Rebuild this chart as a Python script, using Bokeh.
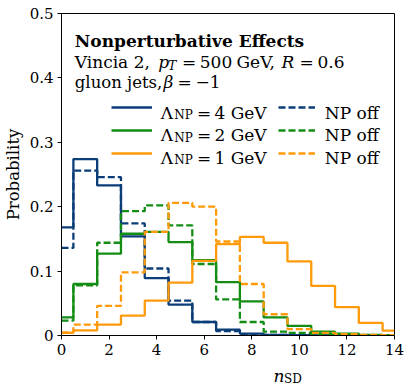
import math
from bokeh.plotting import figure
from bokeh.layouts import column
from bokeh.models import Label, Legend, LegendItem, FixedTicker, Range1d
from bokeh.embed import file_html
from bokeh.resources import INLINE

# ---- data: probability per n_SD value (bins centred on integers) ----
n_sd = list(range(15))
lam4_np = [0.168, 0.274, 0.233, 0.154, 0.089, 0.048, 0.021, 0.009, 0.003, 0.001, 0.0005, 0.0, 0.0, 0.0, 0.0]
lam4_off = [0.136, 0.256, 0.246, 0.174, 0.104, 0.054, 0.021, 0.007, 0.002, 0.001, 0.0, 0.0, 0.0, 0.0, 0.0]
lam2_np = [0.028, 0.080, 0.127, 0.158, 0.161, 0.145, 0.117, 0.083, 0.053, 0.028, 0.015, 0.006, 0.003, 0.001, 0.0005]
lam2_off = [0.023, 0.078, 0.144, 0.193, 0.202, 0.171, 0.111, 0.056, 0.021, 0.006, 0.004, 0.002, 0.001, 0.0, 0.0]
lam1_np = [0.004, 0.008, 0.017, 0.031, 0.054, 0.082, 0.116, 0.142, 0.153, 0.144, 0.115, 0.077, 0.044, 0.0195, 0.0077]
lam1_off = [0.005, 0.017, 0.046, 0.098, 0.161, 0.206, 0.200, 0.146, 0.080, 0.033, 0.010, 0.004, 0.002, 0.001, 0.0005]
x_ticks = [0, 2, 4, 6, 8, 10, 12, 14]
y_ticks = [0.0, 0.1, 0.2, 0.3, 0.4, 0.5]

BLUE = "#0b3d78"
GREEN = "#138d13"
ORANGE = "#ff9a0a"
FONT = "DejaVu Serif"
LW = 2.3
DASH = "7 3"

p = figure(width=408, height=362, output_backend="svg", toolbar_location=None, title=None,
           x_range=Range1d(0, 14), y_range=Range1d(0, 0.5),
           min_border_left=60, min_border_right=14, min_border_top=13, min_border_bottom=27)
p.background_fill_color = "white"
p.border_fill_color = "white"
p.outline_line_color = "black"
p.outline_line_width = 1
p.xgrid.visible = False
p.ygrid.visible = False

for ax in (p.xaxis, p.yaxis):
    ax.axis_line_color = "black"
    ax.major_tick_in = 0
    ax.major_tick_out = 4
    ax.minor_tick_in = 0
    ax.minor_tick_out = 0
    ax.major_tick_line_color = "black"
    ax.major_label_text_font = FONT
    ax.major_label_text_font_size = "15px"
    ax.major_label_text_color = "black"
    ax.major_label_standoff = 4
p.xaxis.ticker = FixedTicker(ticks=x_ticks)
p.yaxis.ticker = FixedTicker(ticks=y_ticks)
p.yaxis.axis_label = "Probability"
p.yaxis.axis_label_text_font = FONT
p.yaxis.axis_label_text_font_size = "16.5px"
p.yaxis.axis_label_text_font_style = "normal"
p.yaxis.axis_label_text_color = "black"
p.yaxis.axis_label_standoff = 4

r4 = p.step(n_sd, lam4_np, mode="center", line_color=BLUE, line_width=LW)
r4o = p.step(n_sd, lam4_off, mode="center", line_color=BLUE, line_width=LW, line_dash=DASH)
r2 = p.step(n_sd, lam2_np, mode="center", line_color=GREEN, line_width=LW)
r2o = p.step(n_sd, lam2_off, mode="center", line_color=GREEN, line_width=LW, line_dash=DASH)
r1 = p.step(n_sd, lam1_np, mode="center", line_color=ORANGE, line_width=LW)
r1o = p.step(n_sd, lam1_off, mode="center", line_color=ORANGE, line_width=LW, line_dash=DASH)

FX, FY = 60, 335  # frame bottom-left in picture pixels


def leg(renderers, vx, gw):
    lg = Legend(items=[LegendItem(label=" ", renderers=[r]) for r in renderers],
                location=(vx, 172), glyph_width=gw, glyph_height=20, label_height=20,
                label_width=0, label_standoff=0, padding=0, margin=0, spacing=3,
                border_line_alpha=0, background_fill_alpha=0, label_text_font_size="1px")
    p.add_layout(lg)


leg([r4, r2, r1], 50, 41)
leg([r4o, r2o, r1o], 217, 37)


def txt(fig, s, x, y, size=17, style="normal"):
    fig.add_layout(Label(x=x, y=y, x_units="screen", y_units="screen", text=s,
                         text_font=FONT, text_font_size=f"{size}px", text_font_style=style,
                         text_align="left", text_baseline="alphabetic", text_color="black"))


def ptxt(s, ix, iy, size=17, style="normal"):
    txt(p, s, ix - FX, FY - iy, size, style)


# title block
ptxt("Nonperturbative Effects", 73.3, 40.5, size=17, style="bold")
ptxt("Vincia 2,", 73.3, 61.3)
ptxt("p", 156.7, 61.3, style="italic")
ptxt("T", 166.5, 64.8, size=12.5, style="italic")
ptxt("=", 180.5, 61.3)
ptxt("500", 198.3, 61.3)
ptxt("GeV,", 235, 61.3)
ptxt("R", 280, 61.3, style="italic")
ptxt("=", 298, 61.3)
ptxt("0.6", 316, 61.3)
ptxt("gluon jets,", 73.3, 81.5, size=16.5)
ptxt("β", 162, 81.5, style="italic")
ptxt("=", 176, 81.5)
ptxt("−1", 194, 81.5)

# legend texts
for base, lam in ((112, "4 GeV"), (134.5, "2 GeV"), (157.3, "1 GeV")):
    ptxt("Λ", 159.3, base)
    ptxt("NP", 172.7, base + 2.5, size=12)
    ptxt("=", 195.5, base)
    ptxt(lam, 213, base)
    ptxt("NP off", 323.3, base)

# x-axis label strip below the main figure (picture y 362..388)
p2 = figure(width=408, height=26, output_backend="svg", toolbar_location=None, title=None,
            x_range=Range1d(0, 1), y_range=Range1d(0, 1), x_axis_location=None,
            y_axis_location=None, min_border=0)
p2.outline_line_color = None
p2.xgrid.visible = False
p2.ygrid.visible = False
p2.background_fill_color = "white"
p2.border_fill_color = "white"
txt(p2, "n", 212, 388 - 375, size=17, style="italic")
txt(p2, "SD", 222.5, 388 - 378.5, size=12)

layout = column(p, p2, spacing=0)
open("out.html", "w").write(file_html(layout, INLINE))
